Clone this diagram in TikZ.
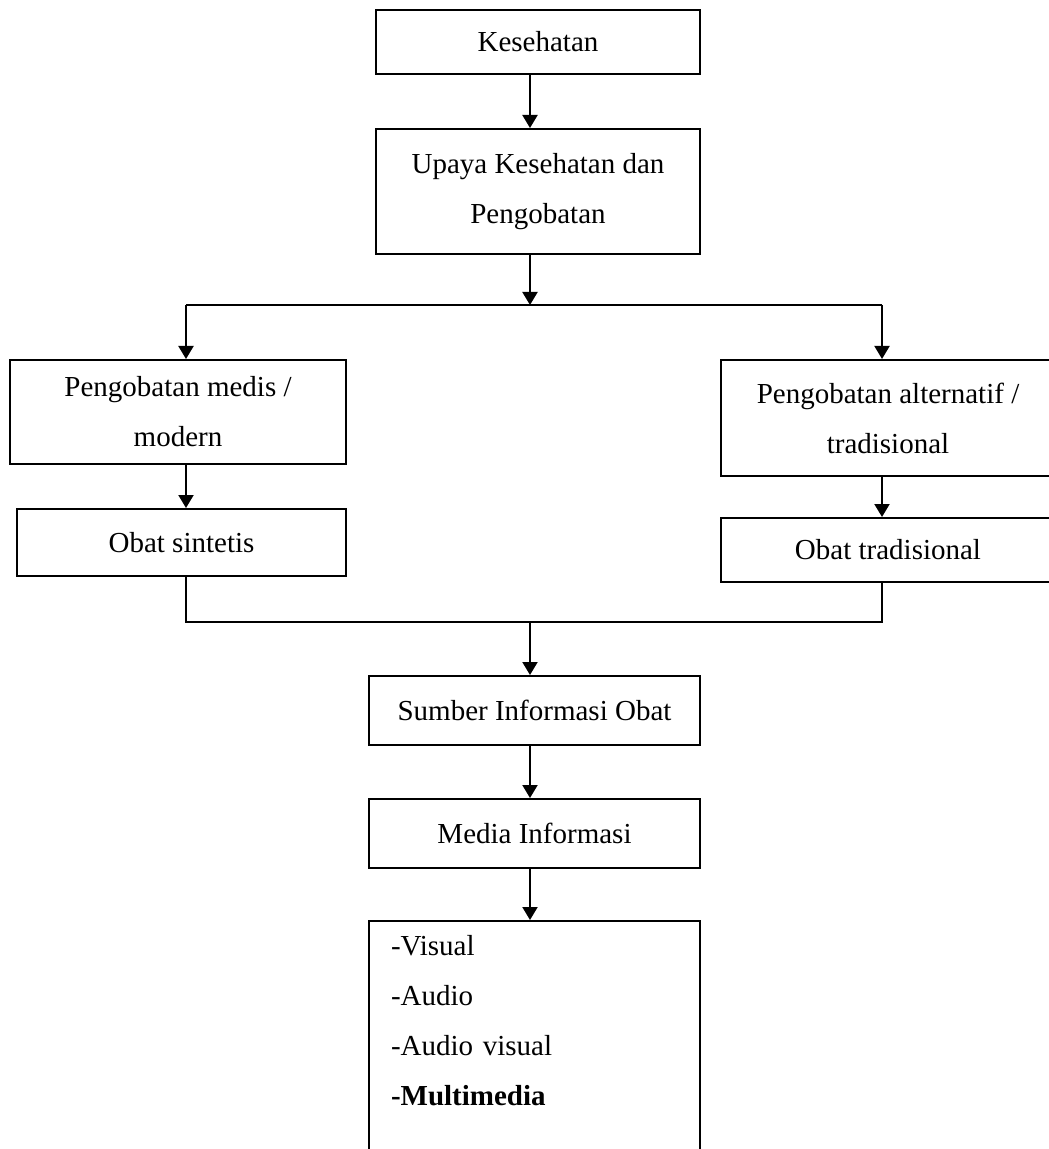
\documentclass[tikz,border=0pt]{standalone}
\usepackage{fontspec}
\setmainfont{Liberation Serif}
\usepackage{tikz}
\usetikzlibrary{
  arrows.meta,
  positioning
}

\begin{document}
\begin{tikzpicture}[
  x=0.5pt, y=-0.5pt,
  node distance=26pt,
  box/.style={rectangle,draw,line width=1pt,inner sep=0pt,align=center,font=\fontsize{14.5}{25}\selectfont},
  arr/.style={-{Triangle[length=6.5pt,width=7.5pt]},line width=1pt},
  conn/.style={line width=1pt}
]
\useasboundingbox (0,0) rectangle (1048,1149);
\node[box,minimum width=162pt,minimum height=32pt] (kes) at (538,42) {Kesehatan};
\node[box,minimum width=162pt,minimum height=62.5pt,below=26.5pt of kes] (upaya) {Upaya Kesehatan dan\\Pengobatan};
\node[box,minimum width=168pt,minimum height=52pt] (medis) at (178,412) {Pengobatan medis /\\modern};
\node[box,minimum width=164.5pt,minimum height=33.5pt] (sintetis) at (181.5,542.5) {Obat sintetis};
\node[box,minimum width=167pt,minimum height=58pt] (alt) at (888,418) {Pengobatan alternatif /\\tradisional};
\node[box,minimum width=167pt,minimum height=32pt] (trad) at (888,550) {Obat tradisional};
\node[box,minimum width=165.5pt,minimum height=34.5pt] (sumber) at (534.5,710.5) {Sumber Informasi Obat};
\node[box,minimum width=165.5pt,minimum height=34.5pt,below=of sumber] (media) {Media Informasi};
\node[box,align=left,inner xsep=11pt,inner ysep=7pt,text width=143.5pt,below=25.5pt of media] (list)
  {-Visual\\-Audio\\-Audio visual\\\textbf{-Multimedia}\\\mbox{}};
% branch points
\coordinate (split) at (530,305);
\coordinate (lbr) at (186,305);
\coordinate (rbr) at (882,305);
\coordinate (join) at (530,622);
\draw[arr] (kes.south -| split)--(upaya.north -| split);
\draw[arr] (upaya.south -| split)--(split);
\draw[conn] (lbr)--(rbr);
\draw[arr] (lbr)--(medis.north -| lbr);
\draw[arr] (rbr)--(alt.north -| rbr);
\draw[arr] (medis.south -| lbr)--(sintetis.north -| lbr);
\draw[arr] (alt.south -| rbr)--(trad.north -| rbr);
\draw[conn] (sintetis.south -| lbr) |- (join) -| (trad.south -| rbr);
\draw[arr] (join)--(sumber.north -| join);
\draw[arr] (sumber.south -| join)--(media.north -| join);
\draw[arr] (media.south -| join)--(list.north -| join);
\end{tikzpicture}
\end{document}
